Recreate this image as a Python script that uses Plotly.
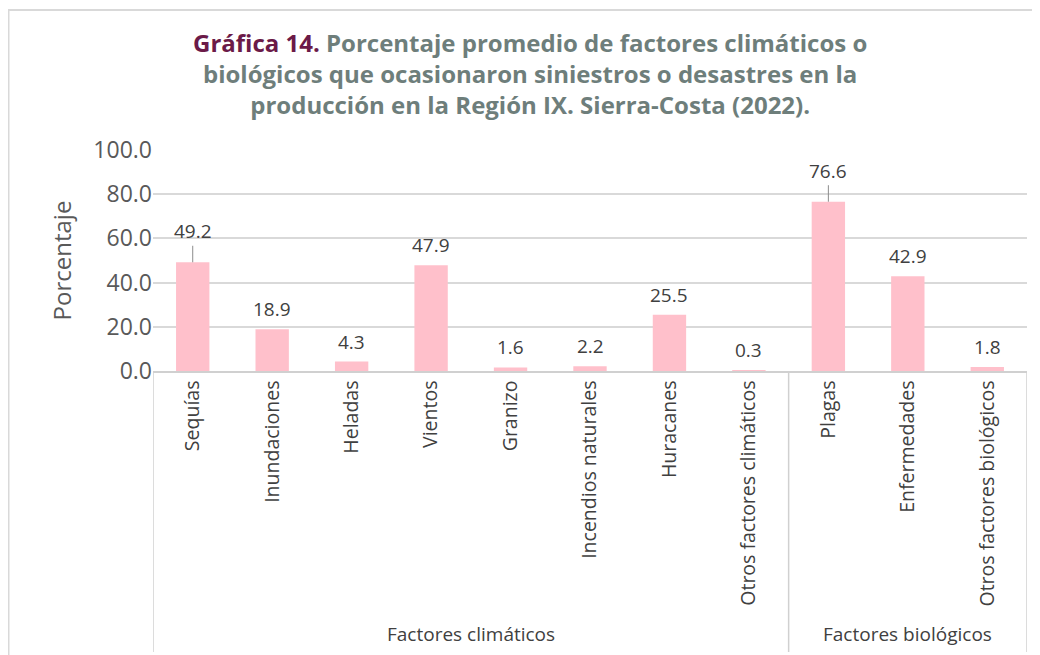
import plotly.graph_objects as go

categories = ["Sequías", "Inundaciones", "Heladas", "Vientos", "Granizo",
              "Incendios naturales", "Huracanes", "Otros factores climáticos",
              "Plagas", "Enfermedades", "Otros factores biológicos"]
values = [49.2, 18.9, 4.3, 47.9, 1.6, 2.2, 25.5, 0.3, 76.6, 42.9, 1.8]
groups = ["Factores climáticos", "Factores biológicos"]
group_sizes = [8, 3]
y_ticks = [0, 20, 40, 60, 80, 100]
title_text = ("<span style='color:#6B1A48'>Gráfica 14.</span> Porcentaje promedio de factores climáticos o<br>"
              "biológicos que ocasionaron siniestros o desastres en la<br>"
              "producción en la Región IX. Sierra-Costa (2022).")

OFF = 8  # page body margin
W, H = 1040 - OFF, 655 - OFF
ML, MT = 153 - OFF, 150 - OFF
MB = H - (371 - OFF)
MR = W - (1027 - OFF)
PW, PH = W - ML - MR, H - MT - MB
FONT = "Open Sans"

def px_x(p):
    return (p - OFF - ML) / PW

def px_y(p):
    return (H - MB - (p - OFF)) / PH

xs = list(range(len(categories)))
fig = go.Figure(go.Bar(x=xs, y=values, marker_color="#FFC0CB",
                       marker_line_width=0, width=0.42, hoverinfo="skip"))

# data labels
lab_font = dict(family=FONT, size=19, color="#404040")
for i, v in enumerate(values):
    if v in (49.2, 76.6):
        fig.add_annotation(x=i, y=v, text=f"{v:.1f}", showarrow=True, arrowhead=0,
                           arrowwidth=1, arrowcolor="#8c8c8c", ax=0, ay=-31,
                           font=lab_font, standoff=0)
    else:
        fig.add_annotation(x=i, y=v, text=f"{v:.1f}", showarrow=False, yanchor="bottom",
                           yshift=5, font=lab_font)

# group separators and labels
line_col = "#d0d0d0"
bottom = px_y(652)
start = 0
bounds = [-0.5]
for g, n in zip(groups, group_sizes):
    end = start + n
    bounds.append(end - 0.5)
    fig.add_annotation(x=(start + end - 1) / 2, xref="x", y=px_y(634), yref="paper",
                       yanchor="middle", xanchor="center", text=g, showarrow=False,
                       font=dict(family=FONT, size=19, color="#404040"))
    start = end
for b in bounds:
    fig.add_shape(type="line", xref="x", yref="paper", x0=b, x1=b, y0=0, y1=bottom,
                  line=dict(color=line_col, width=1.5))

# outer frame
fig.add_shape(type="rect", xref="paper", yref="paper", x0=px_x(8.5), x1=px_x(1045),
              y0=px_y(670), y1=px_y(10), line=dict(color="#d9d9d9", width=2), layer="below")

# title
fig.add_annotation(text="<b>" + title_text + "</b>", xref="paper", yref="paper",
                   x=px_x(530), y=px_y(74), xanchor="center", yanchor="middle",
                   showarrow=False, align="center",
                   font=dict(family=FONT, size=24, color="#6E7E7B"))

fig.update_layout(
    width=W, height=H, margin=dict(l=ML, r=MR, t=MT, b=MB),
    plot_bgcolor="white", paper_bgcolor="white", showlegend=False,
    xaxis=dict(tickvals=xs, ticktext=categories, tickangle=-90, range=[-0.5, len(xs) - 0.5],
               showgrid=False, showline=True, linecolor=line_col, linewidth=1.5, ticks="",
               tickfont=dict(family=FONT, size=19.5, color="#404040")),
    yaxis=dict(range=[0, 100], tickvals=y_ticks, tickformat=".1f", showgrid=True,
               gridcolor="#d9d9d9", gridwidth=1.5, zeroline=False, showline=False, ticks="",
               tickfont=dict(family=FONT, size=23, color="#595959"),
               title=dict(text="Porcentaje", font=dict(family=FONT, size=24, color="#595959"),
                          standoff=14)),
)
fig.write_html("out.html")
